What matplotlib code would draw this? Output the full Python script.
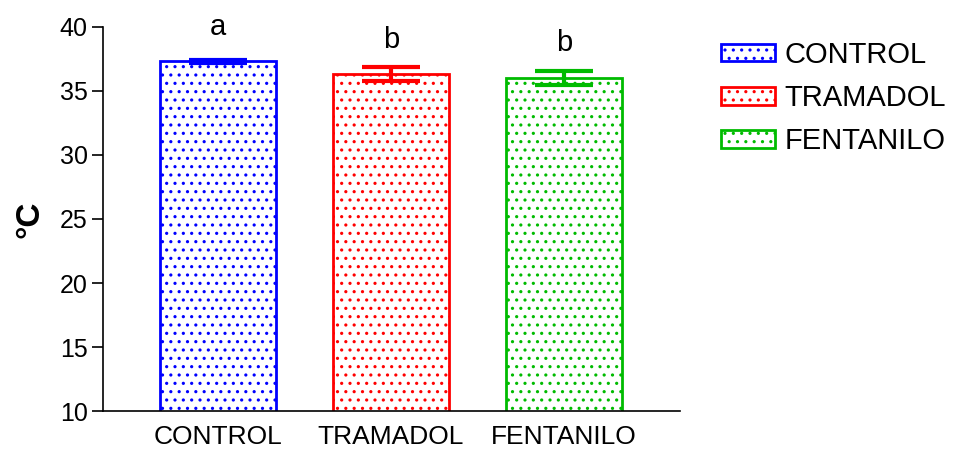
import matplotlib
matplotlib.use("Agg")
import matplotlib.pyplot as plt
from matplotlib.patches import Patch

plt.rcParams['font.family'] = ['Liberation Sans', 'DejaVu Sans']
plt.rcParams['hatch.linewidth'] = 1.1

groups = ["CONTROL", "TRAMADOL", "FENTANILO"]
means = [37.3, 36.35, 36.0]
errors = [0.12, 0.55, 0.55]
letters = ["a", "b", "b"]
colors = ["#0000ff", "#ff0000", "#00bb00"]

# vertical gap between error bar top and significance letter
letter_pad = [2.6, 2.1, 2.2]

fig = plt.figure(figsize=(9.64, 4.62), dpi=100)
ax = fig.add_axes([0.107, 0.110, 0.598, 0.832])

x = range(len(groups))
for i in x:
    ax.bar(i, means[i], width=0.67, bottom=0, color="white", edgecolor=colors[i],
           linewidth=2, hatch="..", zorder=2)
    ax.errorbar(i, means[i], yerr=errors[i], color=colors[i], elinewidth=3,
                capsize=21, capthick=3, zorder=3)
    ax.text(i, means[i] + errors[i] + letter_pad[i], letters[i], ha="center", va="center",
            fontsize=21)

ax.set_ylim(10, 40)
ax.set_xlim(-0.665, 2.67)
ax.set_yticks([10, 15, 20, 25, 30, 35, 40])
ax.set_xticks(list(x))
ax.set_xticklabels(groups)
ax.tick_params(axis="y", labelsize=18, length=8, width=1.2, pad=3)
ax.tick_params(axis="x", labelsize=19, length=0, pad=10)
ax.spines["top"].set_visible(False)
ax.spines["right"].set_visible(False)
ax.spines["left"].set_linewidth(1.2)
ax.spines["bottom"].set_linewidth(1.2)
ax.set_ylabel("°C", fontsize=24, fontweight="bold", labelpad=10)

handles = [Patch(facecolor="white", edgecolor=c, hatch="..", linewidth=2) for c in colors]
fig.legend(handles, groups, loc="upper left", bbox_to_anchor=(0.742, 0.924), frameon=False,
           fontsize=21, handlelength=1.85, handleheight=0.55, labelspacing=0.52,
           handletextpad=0.33, borderpad=0.2, borderaxespad=0.0)

fig.savefig("out.png", dpi=100)
